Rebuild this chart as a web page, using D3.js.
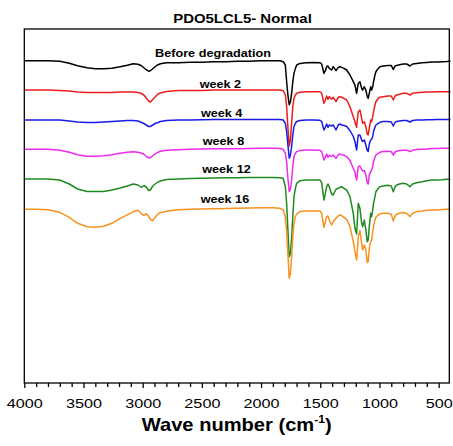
<!DOCTYPE html>
<html>
<head>
<meta charset="utf-8">
<script src="https://cdn.jsdelivr.net/npm/d3@7"></script>
<style>
  body { margin: 0; background: #fff; }
  text { font-family: "Liberation Sans", Arial, sans-serif; }
</style>
</head>
<body>
<div id="chart"></div>
<script>
// wavenumber grid (cm-1), shared by all spectra
const wavenumbers = [
  4000, 3900, 3800, 3700, 3620, 3550, 3470, 3400, 3330, 3260,
  3190, 3130, 3080, 3040, 3010, 2990, 2970, 2950, 2935, 2915,
  2895, 2870, 2850, 2800, 2700, 2600, 2500, 2400, 2300, 2200,
  2100, 2000, 1900, 1840, 1813, 1795, 1784, 1772, 1762, 1752,
  1742, 1732, 1722, 1710, 1699, 1671, 1620, 1560, 1503, 1488,
  1469, 1457, 1446, 1435, 1424, 1404, 1390, 1367, 1348, 1334,
  1319, 1300, 1277, 1249, 1221, 1207, 1193, 1179, 1165, 1150,
  1142, 1128, 1115, 1103, 1095, 1086, 1074, 1066, 1057, 1050,
  1038, 1030, 1010, 996, 968, 930, 900, 883, 868, 855,
  830, 799, 770, 742, 720, 686, 640, 600, 560, 517,
  470, 430, 400
]

// absorption depth below each spectrum's baseline (a.u.)
const beforeDegradation = [
  0, 0, 0, 0.5, 2.5, 5, 7, 8, 8, 7.5,
  6, 4.5, 3, 3.5, 5, 7, 9, 10.5, 10, 8,
  6, 4, 3, 2, 2, 1.5, 1.5, 1, 1, 0.5,
  0.5, 0, 0, 0, 1, 4.3, 21, 36, 44, 41,
  33, 21, 12.7, 7.7, 4.3, 2.7, 2, 1.7, 2, 3.3,
  12.7, 10, 6, 5.3, 7.7, 9.3, 6, 10, 6.7, 6,
  6.7, 7.7, 9.3, 14.3, 21, 24.3, 32.7, 22.7, 21, 27.7,
  29.3, 26, 29.3, 36, 37.7, 32.7, 26, 29.3, 26, 21,
  14.3, 11, 7.7, 6, 5.3, 4.7, 4.7, 8.7, 5.3, 4.7,
  4, 3.3, 3.3, 5.3, 3.3, 2.7, 2, 1.7, 1.3, 1.3,
  1, 0.7, 0.3
]
const week2 = [
  0, 0, 0, 0.5, 1, 2, 2.5, 2.5, 2.5, 2.5,
  2, 2, 2, 2.5, 3.5, 5, 8, 11, 12, 9.5,
  7, 4, 3, 1.5, 0.5, 0.5, 0.5, 0, 0, 0,
  0, 0, 0, 0, 0.7, 5, 16.7, 40, 56, 50,
  33, 16.7, 8.3, 5, 3.3, 2.3, 1.7, 1.7, 1.7, 3.3,
  13.3, 10, 6, 9.3, 6.7, 9.3, 7.3, 11.7, 7.3, 6.7,
  7.3, 8.3, 10, 16.7, 26.7, 31.7, 37.3, 21.7, 20, 28.3,
  33.3, 31.7, 36.7, 44, 45, 38.3, 30, 31.7, 26.7, 21.7,
  15, 11.7, 8.3, 7.3, 6.7, 6, 6, 10, 6, 5,
  4.3, 3.3, 3.3, 5, 3.3, 2.7, 2.3, 2, 2, 1.7,
  1.7, 1.7, 1.7
]
const week4 = [
  0, 0, 0, 0, 1, 2, 2.5, 2.5, 2, 1.5,
  1, 0.5, 0.5, 1, 2.5, 3.5, 5, 6.5, 6.5, 5,
  3.5, 2.5, 1.5, 0.5, 0, 0, -0.3, -0.5, -0.5, -0.5,
  -0.5, -0.5, -0.5, -0.5, 0, 3.3, 11.5, 26.5, 38.3, 35,
  26.5, 15, 6.5, 3.3, 1.5, 0.5, 0, 0, 0.3, 1.5,
  10, 7.3, 4, 7.3, 5, 6, 5, 10, 5, 4,
  5, 5.5, 6.5, 10.5, 16.5, 21.5, 30, 15, 15, 20,
  21.5, 20, 25, 30.5, 31.5, 24, 20, 19.3, 16.5, 11.5,
  7.3, 5, 3.3, 2.3, 1.5, 1.5, 2, 6, 2.3, 1.5,
  1, 0.5, 0.5, 2, 0.5, 0, 0, -0.3, -0.3, -0.5,
  -0.5, -0.5, -0.5
]
const week8 = [
  0, 0, 0, 1, 3, 5.5, 7, 7, 6.5, 5.5,
  4, 3, 2.5, 3, 4, 5, 7, 8.5, 8.5, 6.5,
  4.5, 3, 2, 1, 0.5, 0, -0.3, -0.5, -0.5, -0.5,
  -0.7, -1, -1, -0.7, 0, 4, 12.3, 30.7, 42.3, 40,
  30.7, 17.3, 7.3, 4, 2.3, 1.3, 0.7, 0.7, 1, 2.3,
  10.7, 8, 4.7, 8, 6, 7.3, 5.7, 9, 5.3, 4.7,
  5.3, 6, 7.3, 11.3, 19, 23.3, 30.7, 17.3, 16.7, 20,
  21.7, 21.3, 25.7, 33.3, 34.7, 25.7, 22.3, 20.7, 17.3, 12.3,
  8, 5.7, 4, 3, 2.3, 2, 2.3, 5.7, 2.7, 2,
  1.3, 1, 1, 2.3, 1, 0.3, 0, -0.3, -0.7, -0.7,
  -1, -1, -1
]
const week12 = [
  0, 0, 0, 1, 5, 10, 12.5, 12.5, 12.5, 11,
  9, 7, 5, 6, 8.5, 6.5, 8, 11.5, 11, 7,
  5, 3, 2, 0.5, 0, -0.5, -0.7, -1, -1.2, -1.3,
  -1.5, -1.5, -1.5, -1.3, -0.7, 7.7, 24.3, 54.3, 77.7, 74.3,
  59.3, 37.7, 17.7, 9.3, 4.3, 1.7, 1, 1, 1, 3.7,
  21, 14.3, 7.7, 5, 7.7, 15, 16, 10.3, 9.3, 8.3,
  7.7, 9.3, 11, 17.7, 34.3, 49.3, 55, 24.3, 29.3, 44.3,
  47.7, 41, 51, 62.7, 61, 47.7, 34.3, 37.7, 31, 24.3,
  17.7, 12.7, 9.3, 7.7, 7, 6.3, 7, 12.7, 7.7, 6,
  5, 4.3, 5, 7.7, 5, 3.7, 2.7, 1.7, 1, 1,
  0.7, 0.3, 0.3
]
const week16 = [
  0, 0, 0.5, 3, 8, 14, 17.5, 18, 17, 14,
  9, 5.5, 2.5, 1, 4.5, 6, 4.5, 7, 10, 11.5,
  8, 4.5, 3.5, 2, 0.5, 0, -0.3, -0.5, -0.7, -1,
  -1.2, -1.5, -1.5, -1, 0.7, 7.3, 22.3, 47.3, 69, 64,
  47.3, 27.3, 14, 7.3, 4.7, 2.3, 1.7, 1.7, 1.7, 4,
  18, 12.3, 7.3, 6.7, 10.7, 15.7, 12.3, 9, 6.7, 5.7,
  6.3, 8, 10, 17.3, 32.3, 42.3, 50.7, 27.3, 21.3, 34,
  40.7, 35.7, 40.7, 53.3, 52.3, 39, 32.3, 30.7, 22.3, 17.3,
  10.7, 8, 5.7, 4.7, 4, 4, 5, 11.7, 6.7, 5,
  4, 3.3, 4, 7.3, 4, 2.3, 1.7, 1, 0.7, 0.7,
  0.3, 0, 0
]

const seriesNames = ["Before degradation", "week 2", "week 4", "week 8", "week 12", "week 16"]
const seriesValues = [beforeDegradation, week2, week4, week8, week12, week16]
// vertical stacking offset of each spectrum (a.u.)
const baselines = [322.3, 293, 263, 233.7, 204, 173.7]
const majorTicks = [4000, 3500, 3000, 2500, 2000, 1500, 1000, 500]
const minorTicks = d3.range(3900, 400, -100).filter(t => t % 500 !== 0)

const colors = ["#000000", "#ee1c1c", "#1a1ae6", "#ee2aee", "#1f8a1f", "#f7921e"]
// label anchors: [wavenumber where text starts, height above baseline]
const labelAnchors = [[2895, 3.7], [2519, 2], [2508, 3.5], [2493, 4.5], [2497, 6], [2510, 6]]

const dimensions = {
  width: 453,
  height: 446,
  margin: { top: 29, right: 3.7, bottom: 63, left: 24.3 },
}
dimensions.boundedWidth = dimensions.width - dimensions.margin.left - dimensions.margin.right
dimensions.boundedHeight = dimensions.height - dimensions.margin.top - dimensions.margin.bottom

const stretch = 1.15

const svg = d3.select("#chart").append("svg")
  .attr("width", dimensions.width)
  .attr("height", dimensions.height)

const bounds = svg.append("g")
  .attr("transform", `translate(${dimensions.margin.left},${dimensions.margin.top})`)

const xScale = d3.scaleLinear()
  .domain([4000, 410])
  .range([0, dimensions.boundedWidth])

const yScale = d3.scaleLinear()
  .domain([0, 354])
  .range([dimensions.boundedHeight, 0])

// spectra
seriesValues.forEach((values, i) => {
  const points = wavenumbers.map((wn, j) => ({ wn, value: baselines[i] - values[j] }))
  const lineGenerator = d3.line()
    .x(d => xScale(d.wn))
    .y(d => yScale(d.value))

  bounds.append("path")
    .attr("d", lineGenerator(points))
    .attr("fill", "none")
    .attr("stroke", colors[i])
    .attr("stroke-width", 1.5)
    .attr("stroke-linejoin", "round")

  const [wnLabel, dy] = labelAnchors[i]
  bounds.append("text")
    .attr("transform", `translate(${xScale(wnLabel)},${yScale(baselines[i] + dy)}) scale(${stretch},1)`)
    .attr("font-size", 11)
    .attr("font-weight", "bold")
    .attr("fill", "#000")
    .text(seriesNames[i])
})

// frame
bounds.append("rect")
  .attr("width", dimensions.boundedWidth)
  .attr("height", dimensions.boundedHeight)
  .attr("fill", "none")
  .attr("stroke", "#000")
  .attr("stroke-width", 1.3)

// x axis
const xAxis = bounds.append("g")
  .attr("transform", `translate(0,${dimensions.boundedHeight})`)
  .call(d3.axisBottom(xScale).tickValues(majorTicks).tickFormat(d3.format("d")).tickSize(5).tickPadding(10))
  .call(g => g.select(".domain").remove())
xAxis.selectAll("line").attr("stroke-width", 1.3)
xAxis.selectAll("text")
  .attr("font-size", 13.5)
  .attr("font-family", '"Liberation Sans", Arial, sans-serif')
  .attr("fill", "#000")
  .attr("transform", "scale(1.2,1)")

bounds.append("g")
  .attr("transform", `translate(0,${dimensions.boundedHeight})`)
  .call(d3.axisBottom(xScale).tickValues(minorTicks).tickSize(4).tickFormat(""))
  .call(g => g.select(".domain").remove())
  .selectAll("line").attr("stroke-width", 1.3)

// axis title
const xTitle = svg.append("text")
  .attr("transform", `translate(236.7,431) scale(${stretch},1)`)
  .attr("text-anchor", "middle")
  .attr("font-size", 17.5)
  .attr("font-weight", "bold")
xTitle.append("tspan").text("Wave number (cm")
xTitle.append("tspan").attr("font-size", 10.5).attr("dy", "-0.75em").text("-1")
xTitle.append("tspan").attr("dy", "0.45em").text(")")

// chart title
svg.append("text")
  .attr("transform", `translate(242.5,22.7) scale(${stretch},1)`)
  .attr("text-anchor", "middle")
  .attr("font-size", 13)
  .attr("font-weight", "bold")
  .text("PDO5LCL5- Normal")
</script>
</body>
</html>
